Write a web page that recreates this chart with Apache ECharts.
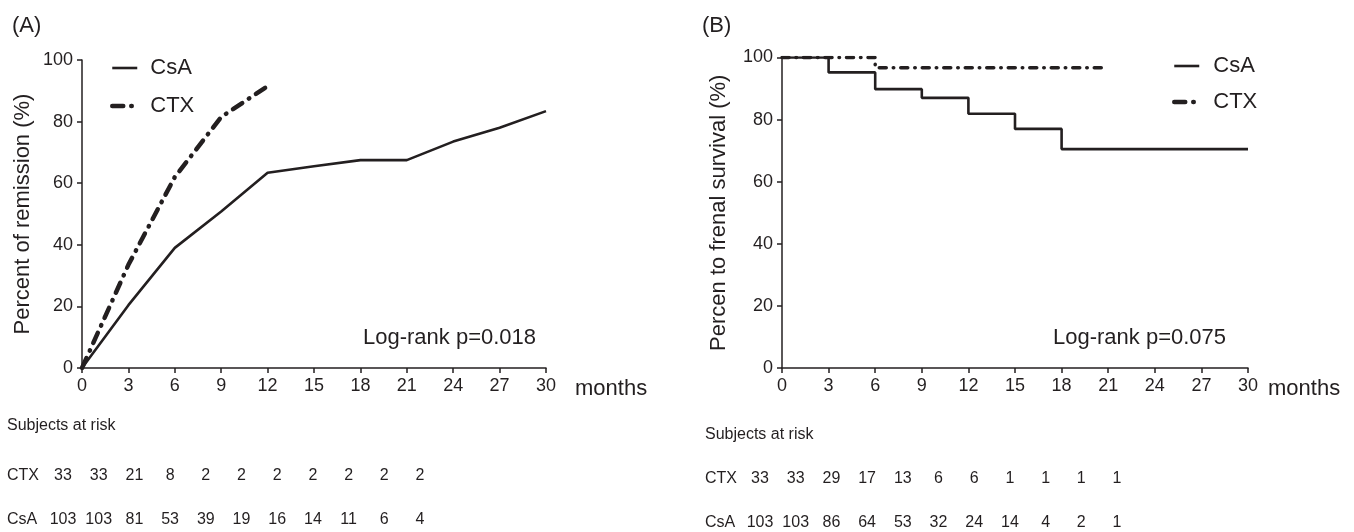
<!DOCTYPE html>
<html>
<head>
<meta charset="utf-8">
<script src="https://cdn.jsdelivr.net/npm/echarts@6/dist/echarts.min.js"></script>
<style>
html,body{margin:0;padding:0;background:#fff;}
#chart{width:1354px;height:532px;}
</style>
</head>
<body>
<div id="chart"></div>
<script>
// ---- Data ----
const xTicks = [0, 3, 6, 9, 12, 15, 18, 21, 24, 27, 30];

// Panel A: cumulative remission (%)
const csaRemMonths = [0, 3, 6, 9, 12, 15, 18, 21, 24, 27, 30];
const csaRemission = [0, 20.4, 39, 50.8, 63.4, 65.5, 67.5, 67.5, 73.5, 78, 83.4];
const ctxRemMonths = [0, 3, 6, 9, 12];
const ctxRemission = [0, 33.5, 62, 81.5, 91.5];

// Panel B: renal survival (%)
const csaSurvMonths = [0, 3, 6, 9, 12, 15, 18, 30];
const csaSurvival = [100, 95.2, 89.8, 87, 81.9, 77, 70.5, 70.5];
const ctxSurvMonths = [0, 6, 21];
const ctxSurvival = [100, 96.7, 96.7];

// Subjects at risk
const riskRows = ['CsA', 'CTX'];
const riskA_CTX = [33, 33, 21, 8, 2, 2, 2, 2, 2, 2, 2];
const riskA_CsA = [103, 103, 81, 53, 39, 19, 16, 14, 11, 6, 4];
const riskB_CTX = [33, 33, 29, 17, 13, 6, 6, 1, 1, 1, 1];
const riskB_CsA = [103, 103, 86, 64, 53, 32, 24, 14, 4, 2, 1];

// ---- Styling ----
const INK = '#231f20';
const FONT = 'Liberation Sans, Arial, Helvetica, sans-serif';
const RFONT = 'Liberation Sans, Arial, Helvetica, sans-serif';

function pairs(xs, ys) { return xs.map((x, i) => [x, ys[i]]); }
function riskData(ctx, csa) {
  const out = [];
  ctx.forEach((v, i) => out.push([i, 1, v]));
  csa.forEach((v, i) => out.push([i, 0, v]));
  return out;
}

function valueXAxis(gridIndex, nameGap) {
  return {
    type: 'value', gridIndex, min: 0, max: 30, interval: 3,
    name: 'months', nameLocation: 'end', nameGap: nameGap,
    nameTextStyle: { color: INK, fontFamily: FONT, fontSize: 22, align: 'left', verticalAlign: 'top', padding: [10, 0, 0, 0] },
    axisLine: { show: true, onZero: false, lineStyle: { color: INK, width: 1.5 } },
    axisTick: { show: true, length: 5, lineStyle: { color: INK, width: 1.5 } },
    axisLabel: { color: INK, fontFamily: FONT, fontSize: 18, margin: 9 },
    splitLine: { show: false }
  };
}
function valueYAxis(gridIndex, name, nameGap) {
  return {
    type: 'value', gridIndex, min: 0, max: 100, interval: 20,
    name: name, nameLocation: 'middle', nameGap: nameGap,
    nameTextStyle: { color: INK, fontFamily: FONT, fontSize: 22 },
    axisLine: { show: true, lineStyle: { color: INK, width: 1.5 } },
    axisTick: { show: true, length: 5, lineStyle: { color: INK, width: 1.5 } },
    axisLabel: { color: INK, fontFamily: FONT, fontSize: 18, margin: 9 },
    splitLine: { show: false }
  };
}
function riskXAxis(gridIndex) {
  return {
    type: 'category', gridIndex, data: xTicks.map(String), boundaryGap: false,
    axisLine: { show: false }, axisTick: { show: false }, axisLabel: { show: false }, splitLine: { show: false }
  };
}
function riskYAxis(gridIndex, margin) {
  return {
    type: 'category', gridIndex, data: riskRows, boundaryGap: false,
    axisLine: { show: false }, axisTick: { show: false }, splitLine: { show: false },
    axisLabel: { show: true, color: INK, fontFamily: RFONT, fontSize: 16, align: 'left', margin: margin }
  };
}
function riskSeries(name, xi, yi, data) {
  return {
    name, type: 'scatter', xAxisIndex: xi, yAxisIndex: yi, data,
    symbolSize: 1, itemStyle: { color: 'rgba(255,255,255,0)', opacity: 1 }, silent: true,
    label: { show: true, position: 'inside', color: INK, opacity: 1, fontFamily: RFONT, fontSize: 16,
             textBorderWidth: 0, textBorderColor: 'transparent',
             formatter: p => String(p.value[2]) }
  };
}

const chart = echarts.init(document.getElementById('chart'), null, { renderer: 'canvas' });
chart.setOption({
  animation: false,
  backgroundColor: '#fff',
  textStyle: { fontFamily: FONT, color: INK },
  title: [
    { text: '(A)', left: 7, top: 10, textStyle: { fontSize: 22, fontWeight: 'normal', color: INK, fontFamily: FONT } },
    { text: '(B)', left: 697, top: 10, textStyle: { fontSize: 22, fontWeight: 'normal', color: INK, fontFamily: FONT } },
    { text: 'Log-rank p=0.018', left: 358, top: 322, textStyle: { fontSize: 22, fontWeight: 'normal', color: INK, fontFamily: FONT } },
    { text: 'Log-rank p=0.075', left: 1048, top: 322, textStyle: { fontSize: 22, fontWeight: 'normal', color: INK, fontFamily: FONT } },
    { text: 'Subjects at risk', left: 2, top: 413, textStyle: { fontSize: 16, fontWeight: 'normal', color: INK, fontFamily: RFONT } },
    { text: 'Subjects at risk', left: 700, top: 422, textStyle: { fontSize: 16, fontWeight: 'normal', color: INK, fontFamily: RFONT } }
  ],
  legend: [
    {
      data: ['CsA', 'CTX'], orient: 'vertical', left: 110, top: 57, padding: 0,
      itemWidth: 25, itemHeight: 14, itemGap: 16,
      itemStyle: { opacity: 0 }, lineStyle: { width: 'inherit' },
      textStyle: { fontSize: 22, color: INK, fontFamily: FONT, padding: [0, 0, 0, 8] }, selectedMode: false
    },
    {
      data: ['CsA', 'CTX'], orient: 'vertical', left: 1172, top: 55, padding: 0,
      itemWidth: 25, itemHeight: 14, itemGap: 14,
      itemStyle: { opacity: 0 }, lineStyle: { width: 'inherit' },
      textStyle: { fontSize: 22, color: INK, fontFamily: FONT, padding: [0, 0, 0, 9] }, selectedMode: false
    }
  ],
  grid: [
    { left: 82, top: 60, right: 808, bottom: 164, outerBoundsMode: 'none', containLabel: false },
    { left: 782, top: 57.5, right: 106, bottom: 164, outerBoundsMode: 'none', containLabel: false },
    { left: 63, top: 476, right: 934, height: 44, outerBoundsMode: 'none', containLabel: false },
    { left: 760, top: 479, right: 237, height: 44, outerBoundsMode: 'none', containLabel: false }
  ],
  xAxis: [
    valueXAxis(0, 29),
    valueXAxis(1, 20),
    riskXAxis(2),
    riskXAxis(3)
  ],
  yAxis: [
    valueYAxis(0, 'Percent of remission (%)', 48),
    valueYAxis(1, 'Percen to frenal survival (%)', 52),
    riskYAxis(2, 56),
    riskYAxis(3, 55)
  ],
  series: [
    {
      name: 'CsA', type: 'line', xAxisIndex: 0, yAxisIndex: 0, data: pairs(csaRemMonths, csaRemission),
      symbol: 'none', lineStyle: { color: INK, width: 2.6 }, itemStyle: { color: INK }
    },
    {
      name: 'CTX', type: 'line', xAxisIndex: 0, yAxisIndex: 0, data: pairs(ctxRemMonths, ctxRemission),
      symbol: 'none', lineStyle: { color: INK, width: 4.5, type: [11, 8, 0.5, 8], cap: 'round' }, itemStyle: { color: INK }
    },
    {
      name: 'CsA', type: 'line', xAxisIndex: 1, yAxisIndex: 1, data: pairs(csaSurvMonths, csaSurvival), step: 'end',
      symbol: 'none', lineStyle: { color: INK, width: 2.6 }, itemStyle: { color: INK }
    },
    {
      name: 'CTX', type: 'line', xAxisIndex: 1, yAxisIndex: 1, data: pairs(ctxSurvMonths, ctxSurvival), step: 'end',
      symbol: 'none', lineStyle: { color: INK, width: 3.5, type: [7, 7, 0.5, 7], cap: 'round' }, itemStyle: { color: INK }
    },
    riskSeries('riskA', 2, 2, riskData(riskA_CTX, riskA_CsA)),
    riskSeries('riskB', 3, 3, riskData(riskB_CTX, riskB_CsA))
  ]
});
</script>
</body>
</html>
